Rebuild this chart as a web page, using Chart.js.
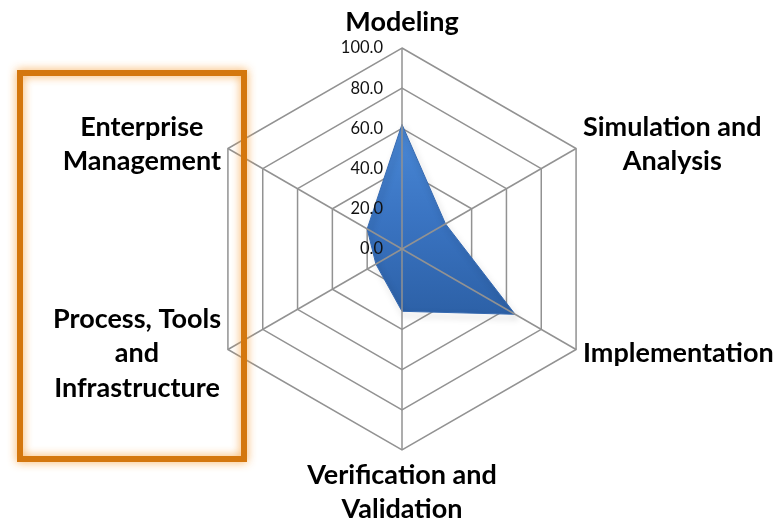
<!DOCTYPE html>
<html>
<head>
<meta charset="utf-8">
<script src="https://cdn.jsdelivr.net/npm/chart.js@4.4.1/dist/chart.umd.min.js"></script>
<style>
  html, body { margin: 0; padding: 0; background: #fff; }
  canvas { display: block; }
</style>
</head>
<body>
<canvas id="radarChart" width="783" height="528"></canvas>
<script>
const categories = [
  ['Modeling'],
  ['Simulation and', 'Analysis'],
  ['Implementation'],
  ['Verification and', 'Validation'],
  ['Process, Tools', 'and', 'Infrastructure'],
  ['Enterprise', 'Management']
];
const scores = [62, 25, 65, 31, 15, 20];
const tickValues = [0, 20, 40, 60, 80, 100];

const labelFont = 'bold 27px Lato';
const tickFont = '16.5px Lato';
const gridColor = '#929292';

// draws angle lines, tick labels and category labels on top of the fill,
// plus the orange highlight box on the left
const overlayPlugin = {
  id: 'overlay',
  beforeDatasetDraw(chart) {
    const ctx = chart.ctx;
    ctx.save();
    ctx.shadowColor = 'rgba(0,0,0,0.4)';
    ctx.shadowBlur = 6;
    ctx.shadowOffsetX = 2;
    ctx.shadowOffsetY = 4;
  },
  afterDatasetDraw(chart) {
    chart.ctx.restore();
  },
  afterDatasetsDraw(chart) {
    const ctx = chart.ctx;
    const scale = chart.scales.r;
    const cx = scale.xCenter, cy = scale.yCenter;

    ctx.save();
    ctx.strokeStyle = gridColor;
    ctx.lineWidth = 1.5;
    categories.forEach((c, i) => {
      const p = scale.getPointPosition(i, scale.drawingArea);
      ctx.beginPath();
      ctx.moveTo(cx, cy);
      ctx.lineTo(p.x, p.y);
      ctx.stroke();
    });

    // tick labels, right aligned left of the vertical axis
    ctx.font = tickFont;
    ctx.fillStyle = '#111';
    ctx.textAlign = 'right';
    ctx.textBaseline = 'middle';
    tickValues.forEach(v => {
      const y = cy - scale.getDistanceFromCenterForValue(v);
      ctx.fillText(v.toFixed(1), cx - 19, y);
    });

    // category labels
    ctx.font = labelFont;
    ctx.fillStyle = '#000';
    ctx.textAlign = 'center';
    const lh = 34.5;
    categories.forEach((lines, i) => {
      const p = scale.getPointPosition(i, scale.drawingArea + 8);
      const w = Math.max(...lines.map(l => ctx.measureText(l).width));
      const h = lines.length * lh;
      let bx = p.x, by = p.y - h / 2;
      if (p.x > cx + 2) bx = p.x + w / 2;
      else if (p.x < cx - 2) bx = p.x - w / 2;
      else if (p.y < cy) by = p.y - h;
      else by = p.y;
      lines.forEach((l, k) => ctx.fillText(l, bx, by + lh * k + lh / 2));
    });

    // orange highlight box
    ctx.shadowColor = 'rgba(247,160,60,0.9)';
    ctx.shadowBlur = 10;
    ctx.strokeStyle = '#d4770e';
    ctx.lineWidth = 6;
    ctx.strokeRect(20, 73, 224, 386);
    ctx.shadowBlur = 0;
    ctx.strokeRect(20, 73, 224, 386);
    ctx.restore();
  }
};

const ctx = document.getElementById('radarChart').getContext('2d');
new Chart(ctx, {
  type: 'radar',
  data: {
    labels: categories,
    datasets: [{
      data: scores,
      backgroundColor: (context) => {
        const area = context.chart.chartArea;
        if (!area) return '#3a74c2';
        const g = context.chart.ctx.createLinearGradient(0, area.top + 70, 0, area.top + 270);
        g.addColorStop(0, '#4b8ad8');
        g.addColorStop(0.5, '#3a74c2');
        g.addColorStop(1, '#2c60a6');
        return g;
      },
      borderColor: '#3468b0',
      borderWidth: 1,
      pointRadius: 0,
      fill: true
    }]
  },
  options: {
    responsive: false,
    animation: false,
    layout: { padding: { left: 201, right: 180, top: 48, bottom: 78 } },
    plugins: {
      legend: { display: false },
      tooltip: { enabled: false }
    },
    scales: {
      r: {
        min: 0,
        max: 100,
        ticks: { stepSize: 20, display: false },
        grid: { color: gridColor, lineWidth: 1.5 },
        angleLines: { display: false },
        pointLabels: { display: false }
      }
    }
  },
  plugins: [overlayPlugin]
});
</script>
</body>
</html>
